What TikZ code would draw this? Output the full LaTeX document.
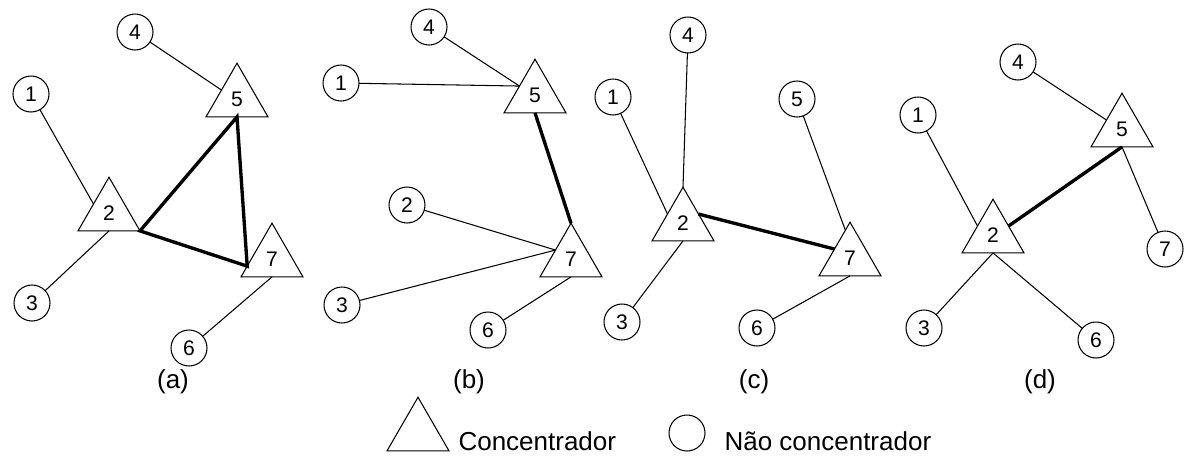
\documentclass[tikz,border=0pt]{standalone}
\usepackage{fontspec}
\setmainfont{Liberation Sans}
\usetikzlibrary{shapes.geometric,calc}

\begin{document}
\begin{tikzpicture}[x=0.02cm, y=-0.02cm, line width=0.6pt,
  conc/.style={draw, regular polygon, regular polygon sides=3, minimum size=1.432cm, inner sep=0pt, outer sep=0pt, font=\fontsize{12}{14}\selectfont},
  nconc/.style={draw, circle, minimum size=0.72cm, inner sep=0pt, outer sep=0pt, font=\fontsize{12}{14}\selectfont},
  forte/.style={line width=1.9pt},
  rot/.style={inner sep=0pt, font=\fontsize{14.8}{17}\selectfont}]
\useasboundingbox (0,0) rectangle (1185,457);
\node[nconc] (a4) at (135,32) {4};
\node[nconc] (a1) at (31,94) {1};
\node[conc] (a5) at (237,99) {5};
\node[conc] (a2) at (109,213) {2};
\node[conc] (a7) at (272,259) {7};
\node[nconc] (a3) at (32,303) {3};
\node[nconc] (a6) at (189,348) {6};
\node[rot] (la) at (173,382) {(a)};
\coordinate (a7e) at ($(a7.corner 1)!0.8!(a7.corner 2)$);
\draw (a4) -- (a5.side 1);
\draw (a1) -- (a2.side 1);
\draw (a3) -- (a2.side 2);
\draw (a7.side 2) -- (a6);
\draw[forte] (a7e) -- (a2.corner 3) -- (a5.side 2) -- cycle;
\node[nconc] (b4) at (429,27) {4};
\node[nconc] (b1) at (341,83) {1};
\node[conc] (b5) at (535,95) {5};
\node[nconc] (b2) at (407,205) {2};
\node[conc] (b7) at (571,259) {7};
\node[nconc] (b3) at (342,305) {3};
\node[nconc] (b6) at (488,330) {6};
\node[rot] (lb) at (469,382) {(b)};
\draw (b4) -- (b5.side 1);
\draw (b1) -- (b5.side 1);
\draw (b2) -- (b7.side 1);
\draw (b3) -- (b7.side 1);
\draw (b7.side 2) -- (b6);
\draw[forte] (b5.side 2) -- (b7.corner 1);
\node[nconc] (c4) at (688,35) {4};
\node[nconc] (c1) at (613,97) {1};
\node[nconc] (c5) at (797,99) {5};
\node[conc] (c2) at (683,223) {2};
\node[conc] (c7) at (850,258) {7};
\node[nconc] (c3) at (622,322) {3};
\node[nconc] (c6) at (757,328) {6};
\node[rot] (lc) at (754,382) {(c)};
\coordinate (c7e) at ($(c7.corner 1)!0.15!(c7.corner 2)$);
\draw (c4) -- (c2.corner 1);
\draw (c1) -- (c2.side 1);
\draw (c3) -- (c2.side 2);
\draw (c5) -- (c7e);
\draw (c7.side 2) -- (c6);
\draw[forte] (c2.side 3) -- (c7.side 1);
\node[nconc] (d4) at (1018,62) {4};
\node[nconc] (d1) at (918,115) {1};
\node[conc] (d5) at (1122,129) {5};
\node[conc] (d2) at (993,235) {2};
\node[nconc] (d7) at (1165,249) {7};
\node[nconc] (d3) at (924,328) {3};
\node[nconc] (d6) at (1096,340) {6};
\node[rot] (ld) at (1040,382) {(d)};
\draw (d4) -- (d5.side 1);
\draw (d1) -- (d2.side 1);
\draw (d5.side 2) -- (d7);
\draw (d2.side 2) -- (d3);
\draw (d2.side 2) -- (d6);
\draw[forte] (d2.side 3) -- (d5.side 2);
\node[conc] (lconc) at (418,433) {};
\node[rot, anchor=base west] (tconc) at (458,450) {Concentrador};
\node[nconc] (lnconc) at (687,433) {};
\node[rot, anchor=base west] (tnconc) at (724,450) {Não concentrador};
\end{tikzpicture}
\end{document}
